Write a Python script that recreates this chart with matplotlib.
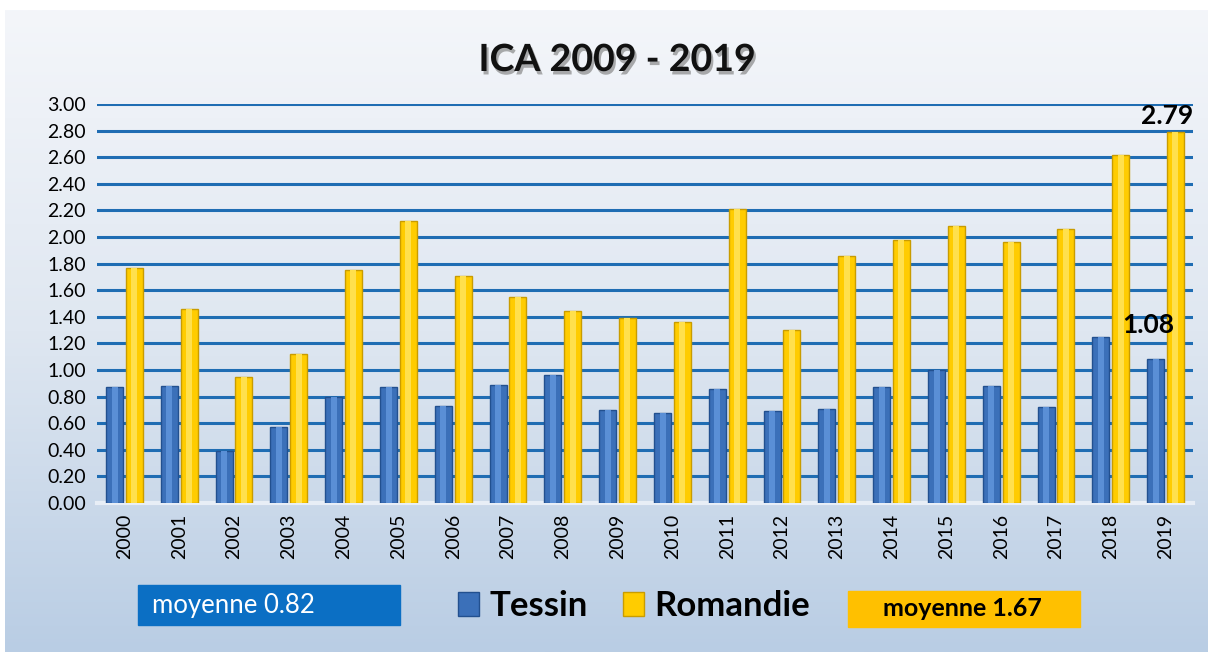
import numpy as np
import matplotlib.pyplot as plt
import matplotlib.patheffects as pe
from matplotlib.patches import Rectangle
from matplotlib.colors import LinearSegmentedColormap

plt.rcParams['font.family'] = ['Lato', 'DejaVu Sans']

annees = [str(a) for a in range(2000, 2020)]
tessin = [0.87, 0.88, 0.39, 0.57, 0.80, 0.87, 0.73, 0.89, 0.96, 0.70,
          0.68, 0.86, 0.69, 0.71, 0.87, 1.00, 0.88, 0.72, 1.25, 1.08]
romandie = [1.77, 1.46, 0.95, 1.12, 1.75, 2.12, 1.71, 1.55, 1.44, 1.39,
            1.36, 2.21, 1.30, 1.86, 1.98, 2.08, 1.96, 2.06, 2.62, 2.79]
moy_tessin = 0.82
moy_romandie = 1.67

W, H = 1208, 652
fig = plt.figure(figsize=(W / 100, H / 100), dpi=100)
fig.patch.set_facecolor('white')

# fond en dégradé
bg = fig.add_axes([5 / W, 0, 1 - 5 / W, 1 - 10 / H], zorder=-10)
grad = np.linspace(0, 1, 256).reshape(-1, 1)
cm = LinearSegmentedColormap.from_list('fond', ['#f4f6fa', '#dfe7f1', '#b9cde4'])
bg.imshow(grad, aspect='auto', cmap=cm, extent=[0, 1, 0, 1], origin='upper')
bg.set_axis_off()

ax = fig.add_axes([97 / W, 149 / H, (1193 - 97) / W, (503 - 104) / H])
ax.set_facecolor('none')
x = np.arange(len(annees))
bw = 0.31
ax.bar(x - 0.18, tessin, bw, color='#3b70b9', edgecolor='#22508f', linewidth=1, label='Tessin', zorder=3)
ax.bar(x + 0.18, romandie, bw, color='#ffcc00', edgecolor='#c99c00', linewidth=1, label='Romandie', zorder=3)
# reflets
ax.bar(x - 0.18, tessin, bw * 0.35, color='#5a8fd6', linewidth=0, zorder=4)
ax.bar(x + 0.18, romandie, bw * 0.35, color='#ffe04d', linewidth=0, zorder=4)

ax.set_xlim(-0.5, len(annees) - 0.5)
ax.set_ylim(0, 3.0)
ax.set_yticks(np.arange(0, 3.01, 0.2))
ax.set_yticklabels([f'{v:.2f}' for v in np.arange(0, 3.01, 0.2)], fontsize=14)
ax.set_xticks(x)
ax.set_xticklabels(annees, rotation=90, fontsize=14)
ax.tick_params(length=0, pad=8)
ax.yaxis.grid(True, color='#1f6db3', linewidth=2.2, zorder=0)
ax.set_axisbelow(True)
for s in ['top', 'right', 'left']:
    ax.spines[s].set_visible(False)
ax.spines['bottom'].set_color('#e8eef6')
ax.spines['bottom'].set_linewidth(3)

ax.text(x[-1] + 0.02, romandie[-1] + 0.03, f'{romandie[-1]:.2f}', ha='center', va='bottom',
        fontsize=19, fontweight='bold', zorder=5)
ax.text(x[-1] - 0.32, tessin[-1] + 0.17, f'{tessin[-1]:.2f}', ha='center', va='bottom',
        fontsize=19, fontweight='bold', zorder=5)

fig.text(617 / W, 1 - 60 / H, 'ICA 2009 - 2019', ha='center', va='center',
         fontsize=27, fontweight='bold', color='#111111',
         path_effects=[pe.withSimplePatchShadow(offset=(1.5, -2.5), shadow_rgbFace='#777777', alpha=0.6)])

# légende
fig.patches.append(Rectangle((138 / W, 1 - 625 / H), 262 / W, 40 / H,
                             transform=fig.transFigure, color='#0b6fc4', zorder=1))
fig.text(152 / W, 1 - 606 / H, f'moyenne {moy_tessin:.2f}', color='white',
         fontsize=18.5, va='center', ha='left')
fig.patches.append(Rectangle((848 / W, 1 - 627 / H), 232 / W, 36 / H,
                             transform=fig.transFigure, color='#ffc000', zorder=1))
fig.text(962 / W, 1 - 609 / H, f'moyenne {moy_romandie:.2f}', color='black',
         fontsize=18, fontweight='bold', va='center', ha='center')

h, l = ax.get_legend_handles_labels()
fig.legend(h[:2], l[:2], loc='center', bbox_to_anchor=(634 / W, 1 - 606 / H), ncol=2,
           frameon=False, prop={'weight': 'bold', 'size': 25}, handlelength=0.6,
           handleheight=0.7, handletextpad=0.3, columnspacing=1.0)

fig.savefig('out.png', dpi=100)
